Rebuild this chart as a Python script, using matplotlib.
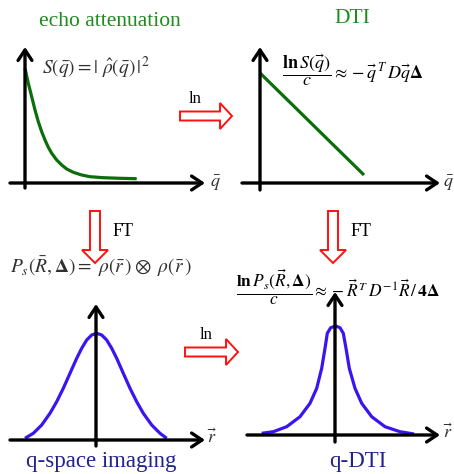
import matplotlib
matplotlib.use("Agg")
import matplotlib.pyplot as plt
from matplotlib.patches import Polygon

plt.rcParams['mathtext.fontset'] = 'stix'
plt.rcParams['font.family'] = ['Liberation Serif', 'DejaVu Serif']

# ---- data (pixel coordinates) ----
echo_x = [25, 28.3, 31.7, 35, 38.3, 41.7, 45, 48.3, 51.7, 56.7, 61.7, 66.7, 73.3, 81.7, 90, 103.3, 120, 136.7]
echo_y = [68.3, 83.3, 96.7, 110, 121.7, 131.7, 140, 147.3, 153.3, 160, 165, 169, 172.3, 175, 176.7, 177.7, 178.3, 178.7]

dti_x = [260, 364]
dti_y = [73, 175]

qsi_x = [25, 33.3, 41.7, 50, 56.7, 63.3, 70, 76.7, 81.7, 86.7, 91.7, 96.7, 101.7, 106.7, 111.7, 116.7,
         123.3, 130, 136.7, 143.3, 151.7, 160, 166.7]
qsi_y = [438.3, 433.3, 425, 413.3, 401.7, 388.3, 373.3, 358.3, 348.3, 340, 335, 333.3, 335, 340, 348.3, 358.3,
         373.3, 388.3, 401.7, 413.3, 425, 433.3, 438.3]

qdti_x = [261.7, 273.3, 286.7, 300, 310, 316.7, 321.7, 325, 327.3, 330.7, 335.7, 340, 343.3, 346, 349.3,
          355, 361.7, 371.7, 385, 400, 414]
qdti_y = [433.3, 431.7, 426.7, 416.7, 403.3, 388.3, 368.3, 348.3, 333.3, 327.7, 326, 327.7, 333.3, 348.3, 368.3,
          388.3, 403.3, 416.7, 426.7, 431.7, 434]

titles = ["echo attenuation", "DTI", "q-space imaging", "q-DTI"]

fig = plt.figure(figsize=(4.54, 4.74), dpi=100)
ax = fig.add_axes([0, 0, 1, 1])
ax.set_xlim(0, 454)
ax.set_ylim(474, 0)
ax.axis('off')

GREEN_T = '#1e8c1e'
GREEN_L = '#0b6e0b'
BLUE_L = '#3c14f0'
NAVY = '#23238c'
RED = '#ff1010'
GRAY = '#303030'

def axis_arrow(x0, y0, x1, y1):
    ax.annotate('', xy=(x1, y1), xytext=(x0, y0),
                arrowprops=dict(arrowstyle='->,head_length=0.75,head_width=0.5',
                                lw=2.4, color='black', shrinkA=0, shrinkB=0))

# axes of the four panels
axis_arrow(25, 188, 25, 47)
axis_arrow(10, 183, 205, 183)
axis_arrow(260, 190, 260, 47)
axis_arrow(242, 183, 440, 183)
axis_arrow(96, 446, 96, 304)
axis_arrow(10, 440, 205, 440)
axis_arrow(335, 442, 335, 292)
axis_arrow(247, 435, 440, 435)

# curves
kw = dict(lw=2.3, solid_capstyle='butt', solid_joinstyle='round')
ax.plot(echo_x, echo_y, color=GREEN_L, **kw)
ax.plot(dti_x, dti_y, color=GREEN_L, **kw)
ax.plot(qsi_x, qsi_y, color=BLUE_L, **kw)
ax.plot(qdti_x, qdti_y, color=BLUE_L, **kw)

# hollow red block arrows
def right_arrow(x0, x1, yc, sh=4.5, hh=13, hl=12):
    pts = [(x0, yc - sh), (x1 - hl, yc - sh), (x1 - hl, yc - hh), (x1, yc),
           (x1 - hl, yc + hh), (x1 - hl, yc + sh), (x0, yc + sh)]
    ax.add_patch(Polygon(pts, closed=True, facecolor='white', edgecolor=RED, lw=1.4))

def down_arrow(xc, y0, y1, sh=5, hh=13, hl=13):
    pts = [(xc - sh, y0), (xc + sh, y0), (xc + sh, y1 - hl), (xc + hh, y1 - hl), (xc, y1),
           (xc - hh, y1 - hl), (xc - sh, y1 - hl)]
    ax.add_patch(Polygon(pts, closed=True, facecolor='white', edgecolor=RED, lw=1.4))

right_arrow(180, 232, 116)
right_arrow(185, 238, 352)
down_arrow(95, 211, 263)
down_arrow(333, 211, 263)

# operator labels
ax.text(195, 99, 'ln', fontsize=12, ha='center', va='center', color='black')
ax.text(206, 335, 'ln', fontsize=12, ha='center', va='center', color='black')
ax.text(123, 231, 'FT', fontsize=13, ha='center', va='center', color='black')
ax.text(361, 231, 'FT', fontsize=13, ha='center', va='center', color='black')

# titles
ax.text(110, 21, titles[0], fontsize=15.5, ha='center', va='center', color=GREEN_T)
ax.text(352, 18, titles[1], fontsize=15.5, ha='center', va='center', color=GREEN_T)
ax.text(101, 462, titles[2], fontsize=16.5, ha='center', va='center', color=NAVY)
ax.text(358, 462, titles[3], fontsize=16.5, ha='center', va='center', color=NAVY)

# axis labels
ax.text(210, 183, r'$\bar{q}$', fontsize=13, ha='left', va='center', color=GRAY)
ax.text(443, 183, r'$\bar{q}$', fontsize=13, ha='left', va='center', color=GRAY)
ax.text(207, 438, r'$\vec{r}$', fontsize=13, ha='left', va='center', color=GRAY)
ax.text(443, 433, r'$\vec{r}$', fontsize=13, ha='left', va='center', color=GRAY)

# formulas
ax.text(42, 68, r'$S(\bar{q})=|\ \hat{\rho}(\bar{q})\,|^2$', fontsize=14,
        ha='left', va='center', color=GRAY)
ax.text(282, 70, r'$\dfrac{\mathbf{ln}\,S(\vec{q})}{c}\approx-\vec{q}^{\,T}\,D\vec{q}\mathbf{\Delta}$',
        fontsize=13, ha='left', va='center', color='black')
ax.text(10, 267, r'$P_s(\bar{R},\mathbf{\Delta})=\ \rho(\bar{r}\,)\otimes\ \rho(\bar{r}\,)$',
        fontsize=14, ha='left', va='center', color=GRAY)
ax.text(236, 287, r'$\dfrac{\mathbf{ln}\,P_s(\vec{R},\mathbf{\Delta})}{c}\approx-\vec{R}^{\,T}\,D^{-1}\vec{R}\,/\,\mathbf{4\Delta}$',
        fontsize=12.5, ha='left', va='center', color='black')

fig.savefig('out.png', dpi=100)
